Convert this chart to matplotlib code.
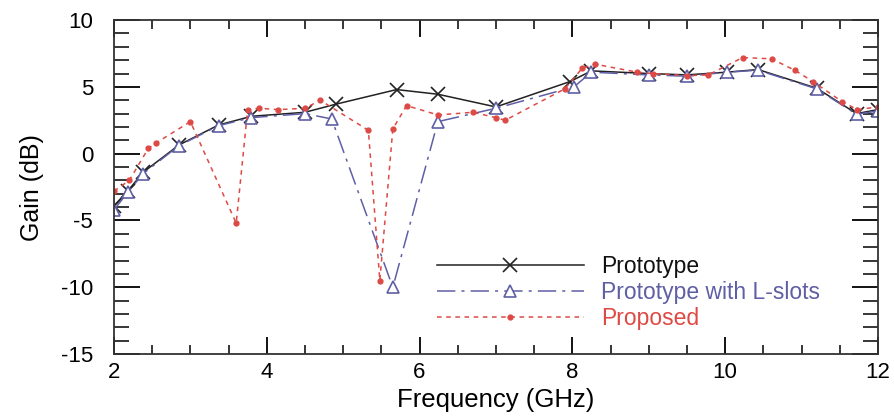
import numpy as np
import matplotlib
matplotlib.use("Agg")
import matplotlib.pyplot as plt
from matplotlib.ticker import MultipleLocator

plt.rcParams['font.family'] = ['Liberation Sans', 'DejaVu Sans']
plt.rcParams['axes.unicode_minus'] = False

# Prototype
proto_f = [2.0, 2.18, 2.38, 2.85, 3.37, 3.8, 4.5, 4.9, 5.7, 6.24, 7.0, 7.97, 8.25, 9.0, 9.5, 10.02, 10.43, 11.2, 11.72, 12.0]
proto_g = [-3.9, -2.8, -1.4, 0.65, 2.15, 2.8, 3.1, 3.7, 4.8, 4.45, 3.5, 5.4, 6.2, 6.0, 5.9, 6.1, 6.3, 4.9, 3.0, 3.3]

# Prototype with L-slots
lslot_f = [2.0, 2.18, 2.38, 2.85, 3.37, 3.8, 4.5, 4.85, 5.65, 6.24, 7.0, 8.02, 8.25, 9.0, 9.5, 10.02, 10.43, 11.2, 11.72, 12.0]
lslot_g = [-4.2, -2.9, -1.5, 0.6, 2.1, 2.7, 3.0, 2.6, -10.0, 2.4, 3.4, 5.0, 6.1, 5.9, 5.8, 6.1, 6.25, 4.85, 2.95, 3.2]

# Proposed
prop_f = [2.0, 2.2, 2.45, 2.55, 3.0, 3.6, 3.75, 3.9, 4.15, 4.5, 4.7, 5.33, 5.48, 5.65, 5.83, 6.24, 6.7,
          7.0, 7.12, 7.9, 8.13, 8.3, 8.85, 9.05, 9.5, 9.78, 10.23, 10.61, 10.91, 11.15, 11.53, 11.73, 12.0]
prop_g = [-2.8, -2.0, 0.4, 0.8, 2.4, -5.2, 3.3, 3.4, 3.3, 3.4, 4.0, 1.75, -9.5, 1.85, 3.6, 2.9, 3.1,
          2.7, 2.5, 4.85, 6.4, 6.7, 6.1, 6.0, 5.85, 5.9, 7.2, 7.1, 6.25, 5.4, 3.9, 3.3, 3.5]

c_blue = "#5f5fa5"
c_red = "#dd4a45"

fig = plt.figure(figsize=(8.94, 4.19), dpi=100)
ax = fig.add_axes([0.1275, 0.155, 0.8545, 0.797])

ax.plot(proto_f, proto_g, color="#222222", lw=1.1, marker="x", ms=10, mew=1.2, label="Prototype")
ax.plot(lslot_f, lslot_g, color=c_blue, lw=1.1, ls=(0, (12, 4, 2, 4)), marker="^", ms=9,
        mfc="white", mec=c_blue, mew=1.2, label="Prototype with L-slots")
ax.plot(prop_f, prop_g, color=c_red, lw=1.1, ls=(0, (3, 3)), marker="o", ms=3.5,
        mfc=c_red, mec=c_red, label="Proposed")

ax.set_xlim(2, 12)
ax.set_ylim(-15, 10)
ax.xaxis.set_major_locator(MultipleLocator(2))
ax.xaxis.set_minor_locator(MultipleLocator(0.5))
ax.yaxis.set_major_locator(MultipleLocator(5))
ax.yaxis.set_minor_locator(MultipleLocator(1))
ax.tick_params(axis="x", which="major", direction="in", length=12, width=1.3, top=True, labelsize=16, pad=6)
ax.tick_params(axis="x", which="minor", direction="in", length=6.5, width=1.1, top=True)
ax.tick_params(axis="y", which="major", direction="in", length=19, width=1.3, right=True, labelsize=16, pad=15)
ax.tick_params(axis="y", which="minor", direction="in", length=11, width=1.1, right=True)
for s in ax.spines.values():
    s.set_linewidth(1.3)
    s.set_color("#333333")

ax.set_xlabel("Frequency (GHz)", fontsize=18.5, labelpad=3)
ax.set_ylabel("Gain (dB)", fontsize=18, labelpad=12)

leg = ax.legend(loc="center left", bbox_to_anchor=(0.423, 0.185), frameon=False, fontsize=16.5,
                handlelength=6.4, labelspacing=0.12, handletextpad=0.75, borderpad=0, borderaxespad=0)
for t, c in zip(leg.get_texts(), ["#111111", c_blue, c_red]):
    t.set_color(c)

fig.savefig("out.png", dpi=100)
